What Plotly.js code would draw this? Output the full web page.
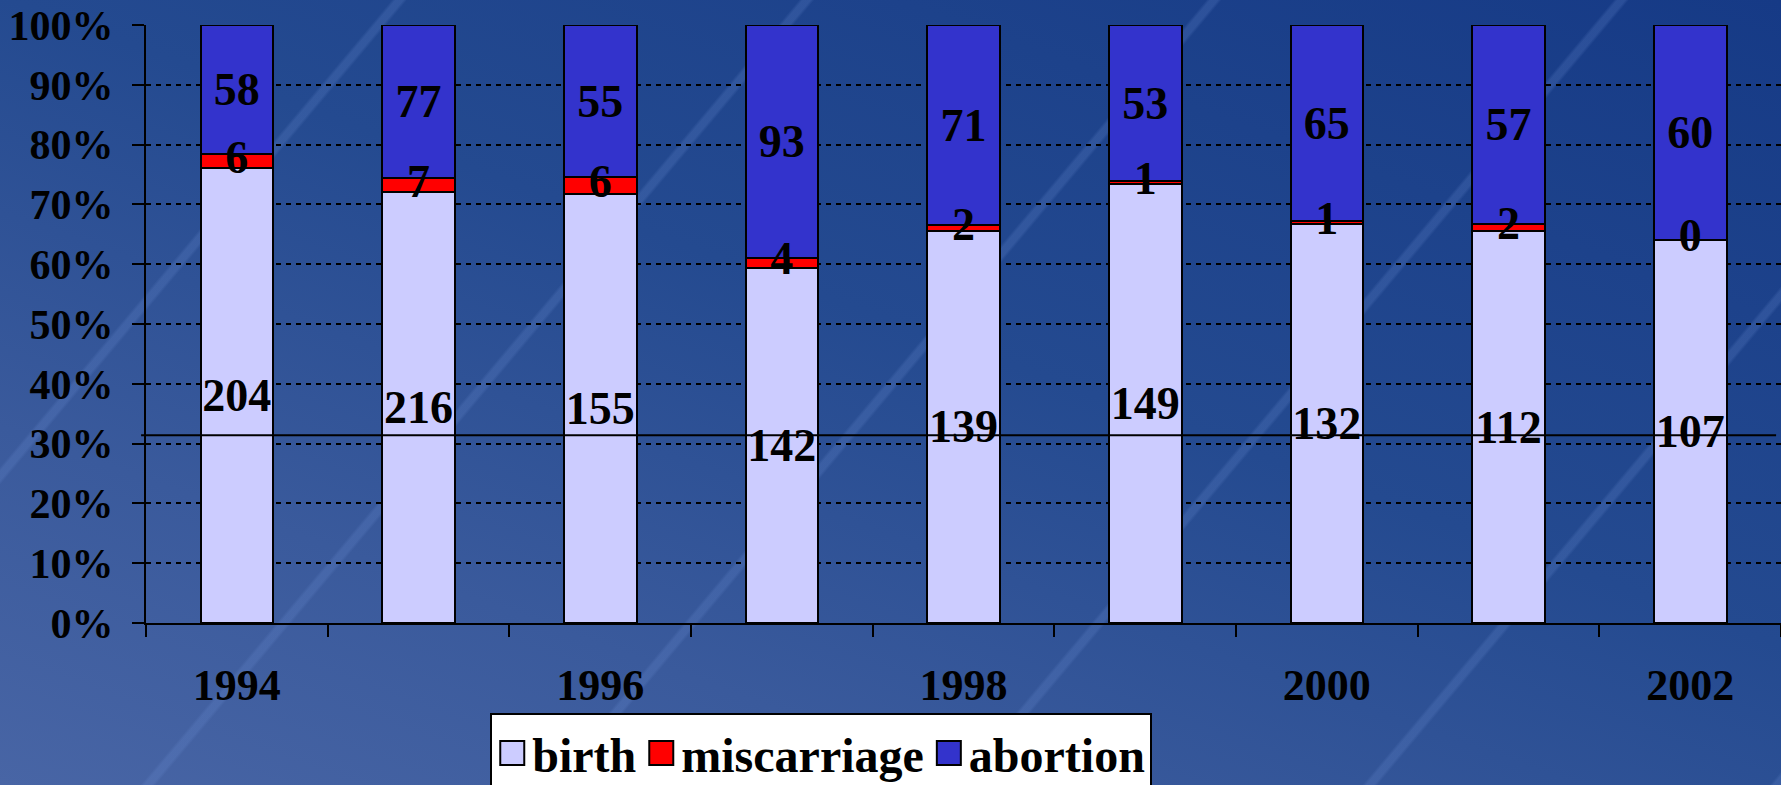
<!DOCTYPE html>
<html>
<head>
<meta charset="utf-8">
<script src="https://cdn.plot.ly/plotly-3.0.1.min.js"></script>
<style>
html, body { margin: 0; padding: 0; width: 1781px; height: 785px; overflow: hidden; }
body {
  background:
    repeating-linear-gradient(130deg, rgba(255,255,255,0) 0px, rgba(255,255,255,0) 300px, rgba(110,145,215,0.22) 303px, rgba(110,145,215,0.22) 309px, rgba(255,255,255,0) 312px),
    linear-gradient(200deg, #163a86 0%, #244a90 45%, #3a5a9c 75%, #4865a5 100%);
}
#chart { width: 1781px; height: 785px; }
</style>
</head>
<body>
<div id="chart"></div>
<script>
const years = ['1994','1995','1996','1997','1998','1999','2000','2001','2002'];
const yearLabels = ['1994','','1996','','1998','','2000','','2002'];
const yTickValues = [0,10,20,30,40,50,60,70,80,90,100];
const birth = [204, 216, 155, 142, 139, 149, 132, 112, 107];
const miscarriage = [6, 7, 6, 4, 2, 1, 1, 2, 0];
const abortion = [58, 77, 55, 93, 71, 53, 65, 57, 60];
const refLineLevel = 31.4;

const FONT = '"Liberation Serif", "Times New Roman", serif';
const LABEL_FONT = { family: FONT, size: 46, color: '#000', weight: 'bold' };

function barTrace(name, vals, color, withText) {
  const t = {
    type: 'bar', name: name, x: years, y: vals,
    marker: { color: color, line: { color: '#000', width: 2 } },
    hoverinfo: 'skip'
  };
  if (withText) {
    Object.assign(t, {
      text: vals.map(String), texttemplate: '%{text}',
      textposition: 'inside', insidetextanchor: 'middle', constraintext: 'none', textangle: 0,
      textfont: LABEL_FONT
    });
  } else {
    t.textposition = 'none';
  }
  return t;
}

// miscarriage labels drawn on top (centre of the miscarriage segment, in percent)
const totals = birth.map((b, i) => b + miscarriage[i] + abortion[i]);
const miscMid = birth.map((b, i) => (b + miscarriage[i] / 2) / totals[i] * 100);

const data = [
  barTrace('birth', birth, '#ccccff', true),
  barTrace('miscarriage', miscarriage, '#ff0000', false),
  barTrace('abortion', abortion, '#3333cc', true),
  {
    type: 'scatter', mode: 'text', x: years, y: miscMid,
    text: miscarriage.map(String), textposition: 'middle center',
    textfont: LABEL_FONT, showlegend: false, hoverinfo: 'skip', cliponaxis: false
  }
];

const layout = {
  width: 1781, height: 785,
  paper_bgcolor: 'rgba(0,0,0,0)', plot_bgcolor: 'rgba(0,0,0,0)',
  margin: { l: 146, r: 0, t: 25, b: 162, autoexpand: false },
  barmode: 'stack', barnorm: 'percent', bargap: 0.6,
  font: { family: FONT, color: '#000', weight: 'bold' },
  showlegend: true,
  legend: {
    orientation: 'h', x: 0.413, xanchor: 'center', y: -0.151, yanchor: 'top',
    bgcolor: '#ffffff', bordercolor: '#000', borderwidth: 2,
    font: { family: FONT, size: 48, color: '#000', weight: 'bold' },
    traceorder: 'normal'
  },
  xaxis: {
    type: 'category', tickvals: years, ticktext: yearLabels,
    tickson: 'boundaries', ticks: 'outside', ticklen: 12, tickwidth: 2, tickcolor: '#000',
    showline: true, linecolor: '#000', linewidth: 2, showgrid: false, zeroline: false,
    tickfont: { family: FONT, size: 44, color: '#000', weight: 'bold' },
    ticklabelstandoff: 22
  },
  yaxis: {
    range: [0, 100], tickmode: 'array', tickvals: yTickValues, ticktext: yTickValues.map(v => v + '%'),
    ticks: 'outside', ticklen: 12, tickwidth: 2, tickcolor: '#000',
    showline: true, linecolor: '#000', linewidth: 2,
    showgrid: true, gridcolor: '#000', gridwidth: 2, griddash: '5px,5px', zeroline: false,
    tickfont: { family: FONT, size: 42, color: '#000', weight: 'bold' },
    ticklabelstandoff: 10
  },
  shapes: [{
    type: 'line', xref: 'paper', yref: 'y', x0: -0.003, x1: 0.997, y0: refLineLevel, y1: refLineLevel,
    line: { color: '#000', width: 2 }, layer: 'above'
  }]
};

Plotly.newPlot('chart', data, layout, { staticPlot: true, displayModeBar: false }).then(function (gd) {
  gd.querySelectorAll('.legend .legendpoints path').forEach(function (p) {
    const existing = p.getAttribute('transform') || '';
    p.setAttribute('transform', existing + ' scale(2.0)');
    p.style.strokeWidth = '1px';
  });
});
</script>
</body>
</html>
